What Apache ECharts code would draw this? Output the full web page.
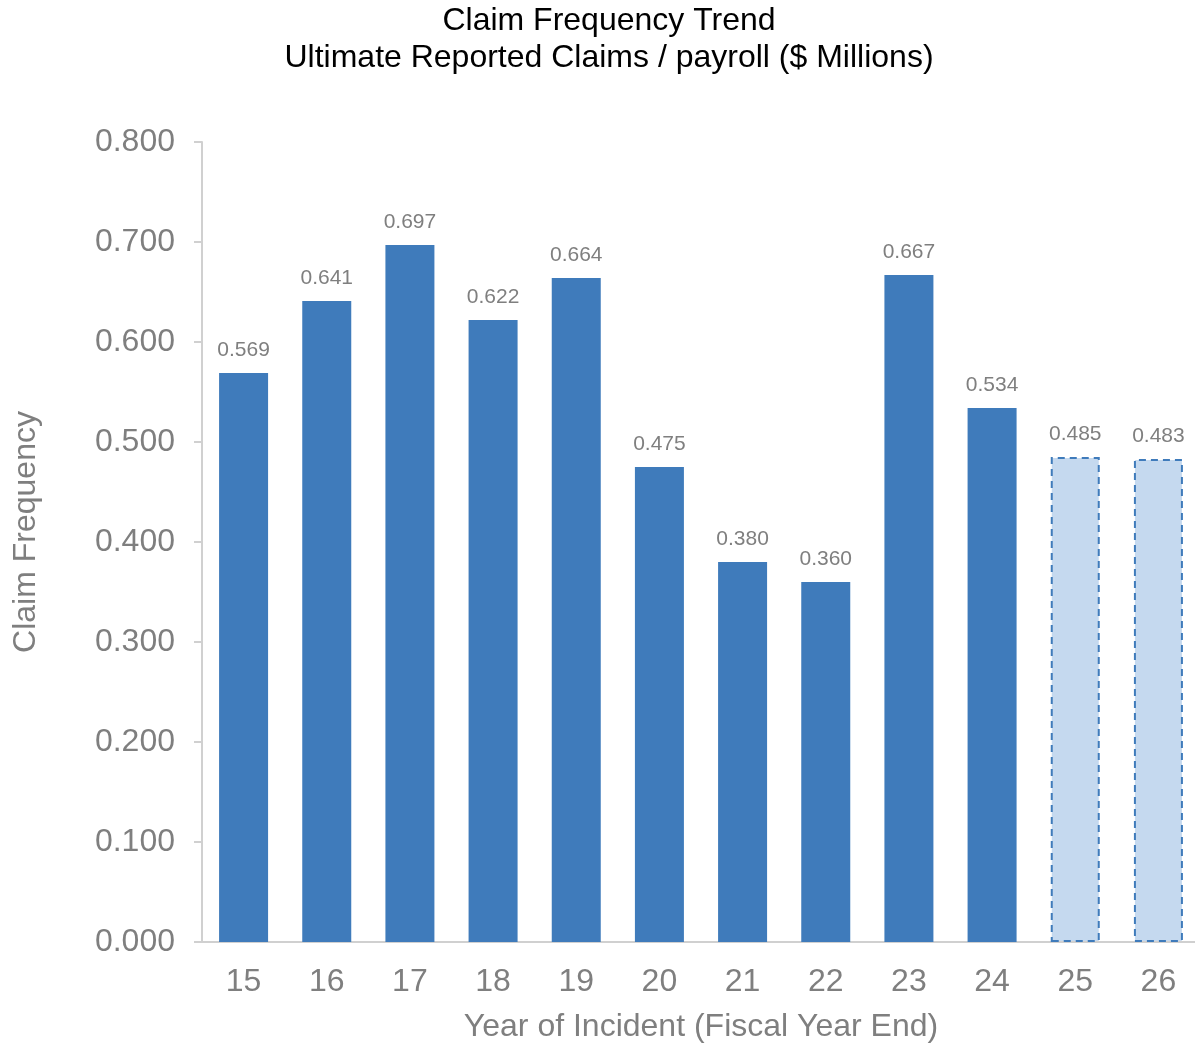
<!DOCTYPE html>
<html>
<head>
<meta charset="utf-8">
<script src="https://cdn.jsdelivr.net/npm/echarts@6/dist/echarts.min.js"></script>
<style>
  html, body { margin: 0; padding: 0; background: #fff; overflow: hidden; }
  #chart { width: 1195px; height: 1045px; }
</style>
</head>
<body>
<div id="chart"></div>
<script>
// Fiscal years of incident
const years = ['15', '16', '17', '18', '19', '20', '21', '22', '23', '24', '25', '26'];
// Ultimate reported claims per $ million of payroll
const frequency = [0.569, 0.641, 0.697, 0.622, 0.664, 0.475, 0.380, 0.360, 0.667, 0.534, 0.485, 0.483];
// Years that are projections rather than observed
const projectedYears = ['25', '26'];
// Value axis tick settings
const yMin = 0, yMax = 0.8, yStep = 0.1;

const solidBlue = '#3F7BBB';
const lightBlue = '#C5D9EF';
const grey = '#7F7F7F';
const font = '"Liberation Sans", Arial, sans-serif';

const barData = years.map((y, i) => {
  const projected = projectedYears.includes(y);
  return {
    value: frequency[i],
    itemStyle: projected
      ? { color: lightBlue, borderColor: solidBlue, borderWidth: 2, borderType: [7, 5] }
      : { color: solidBlue }
  };
});

const chart = echarts.init(document.getElementById('chart'), null, { renderer: 'canvas' });
chart.setOption({
  animation: false,
  backgroundColor: '#fff',
  title: {
    text: 'Claim Frequency Trend\nUltimate Reported Claims / payroll ($ Millions)',
    left: 604,
    textAlign: 'center',
    top: -2,
    textStyle: { fontFamily: font, fontSize: 32, fontWeight: 'normal', color: '#000', lineHeight: 37 }
  },
  grid: {
    left: 202, width: 998, top: 142, height: 800,
    containLabel: false, outerBoundsMode: 'none'
  },
  xAxis: {
    type: 'category',
    data: years,
    axisLine: { show: true, lineStyle: { color: '#D0D0D0', width: 2 } },
    axisTick: { show: false },
    axisLabel: { color: grey, fontFamily: font, fontSize: 32, margin: 24 },
    name: 'Year of Incident (Fiscal Year End)',
    nameLocation: 'middle',
    nameGap: 69,
    nameTextStyle: { color: grey, fontFamily: font, fontSize: 32 }
  },
  yAxis: {
    type: 'value',
    min: yMin,
    max: yMax,
    interval: yStep,
    splitLine: { show: false },
    axisLine: { show: true, lineStyle: { color: '#D0D0D0', width: 2 } },
    axisTick: { show: true, length: 8, lineStyle: { color: '#D0D0D0', width: 2 } },
    axisLabel: {
      color: grey, fontFamily: font, fontSize: 32, margin: 27,
      formatter: v => v.toFixed(3)
    },
    name: 'Claim Frequency',
    nameLocation: 'middle',
    nameGap: 160,
    nameTextStyle: { color: grey, fontFamily: font, fontSize: 32, padding: [0, 0, 0, 20] }
  },
  series: [{
    type: 'bar',
    data: barData,
    barWidth: 49,
    label: {
      show: true,
      position: 'top',
      distance: 12,
      color: grey,
      fontFamily: font,
      fontSize: 21,
      formatter: p => p.value.toFixed(3)
    }
  }]
});
</script>
</body>
</html>
